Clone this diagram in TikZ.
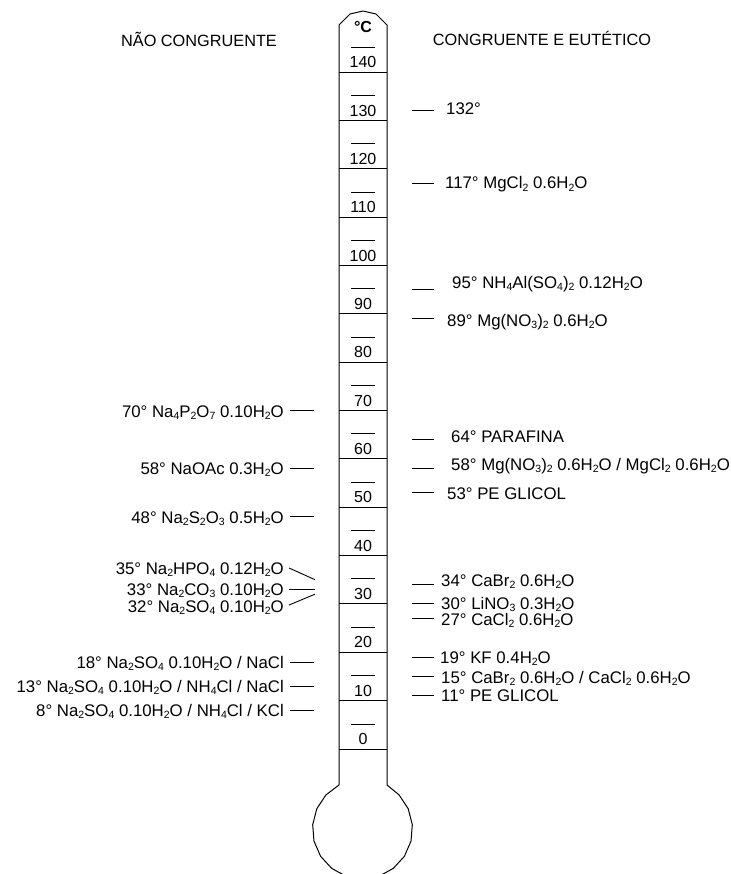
\documentclass[tikz,border=0pt]{standalone}
\usepackage{fontspec}
\setmainfont{Liberation Sans}
\usetikzlibrary{calc}
\newcommand\chsub[1]{\raisebox{-0.17em}{\fontsize{10.5}{10}\selectfont #1}}
\tikzset{
  lab/.style={font=\fontsize{16.8}{18}\selectfont, inner sep=0pt},
  scl/.style={font=\fontsize{16}{18}\selectfont, inner sep=0pt, anchor=base},
  head/.style={font=\fontsize{16.3}{18}\selectfont, inner sep=0pt},
  tick/.style={line width=0.9pt},
  outline/.style={line width=1pt, line join=round},
  leftlab/.style={lab, anchor=base east},
  rightlab/.style={lab, anchor=base west},
}
\begin{document}
\begin{tikzpicture}[x=1pt,y=-1pt]
\useasboundingbox (0,0) rectangle (730,874);
\clip (0,0) rectangle (730,874);
% thermometer outline
\coordinate (tl) at (339,25);
\coordinate (tr) at (387,25);
\coordinate (bl) at (339,785);
\coordinate (br) at (387,785);
\coordinate (bc) at (362.5,829);
\draw[outline] (bl) -- (tl) -- (350,14) -- (363,11) -- (376,14) -- (tr) -- (br)
  \foreach \k in {1,...,15} { -- ($(bc)+({50*cos(-62+19*\k)},{50*sin(-62+19*\k)})$) } -- (bl);
% scale
\foreach \v in {0,10,...,140} {
  \coordinate (sa\v) at (339,{749-4.836*\v});
  \coordinate (sb\v) at (387,{749-4.836*\v});
  \draw[tick] (sa\v) -- (sb\v);
  \node[scl] (n\v) at (363,{749-4.836*\v-4.3}) {\v};
  \coordinate (da\v) at (351,{749-4.836*\v-25});
  \coordinate (db\v) at (375,{749-4.836*\v-25});
  \draw[tick] (da\v) -- (db\v);
}
\node[head, font=\fontsize{16}{18}\selectfont\bfseries] (deg) at (363,27) {°C};
% headers
\node[head] (hl) at (199,39) {NÃO CONGRUENTE};
\node[head] (hr) at (542,39) {CONGRUENTE E EUTÉTICO};
% left labels
\node[leftlab] (L70) at (284,417) {70° Na\chsub4P\chsub2O\chsub7 0.10H\chsub2O};
\node[leftlab] (L58) at (284,474) {58° NaOAc 0.3H\chsub2O};
\node[leftlab] (L48) at (284,523) {48° Na\chsub2S\chsub2O\chsub3 0.5H\chsub2O};
\node[leftlab] (L35) at (284,574) {35° Na\chsub2HPO\chsub4 0.12H\chsub2O};
\node[leftlab] (L33) at (284,595) {33° Na\chsub2CO\chsub3 0.10H\chsub2O};
\node[leftlab] (L32) at (284,612) {32° Na\chsub2SO\chsub4 0.10H\chsub2O};
\node[leftlab] (L18) at (284,668) {18° Na\chsub2SO\chsub4 0.10H\chsub2O / NaCl};
\node[leftlab] (L13) at (284,692) {13° Na\chsub2SO\chsub4 0.10H\chsub2O / NH\chsub4Cl / NaCl};
\node[leftlab] (L8) at (284,716) {8° Na\chsub2SO\chsub4 0.10H\chsub2O / NH\chsub4Cl / KCl};
\coordinate (a70) at (290,410.5); \coordinate (b70) at (314,410.5);
\coordinate (a58) at (290,468.5); \coordinate (b58) at (314,468.5);
\coordinate (a48) at (290,516.9); \coordinate (b48) at (314,516.9);
\coordinate (a35) at (289,568);   \coordinate (b35) at (315,579.7);
\coordinate (a33) at (289,589.4); \coordinate (b33) at (315,589.4);
\coordinate (a32) at (289,605);   \coordinate (b32) at (315,594.2);
\coordinate (a18) at (290,662);   \coordinate (b18) at (314,662);
\coordinate (a13) at (290,686.1); \coordinate (b13) at (314,686.1);
\coordinate (a8) at (290,710.3);  \coordinate (b8) at (314,710.3);
\foreach \t in {70,58,48,35,33,32,18,13,8} { \draw[tick] (a\t) -- (b\t); }
% right labels
\node[rightlab] (R132) at (446,115) {132°};
\node[rightlab] (R117) at (445,189) {117° MgCl\chsub2 0.6H\chsub2O};
\node[rightlab] (R95) at (452,288) {95° NH\chsub4Al(SO\chsub4)\chsub2 0.12H\chsub2O};
\node[rightlab] (R89) at (447,326) {89° Mg(NO\chsub3)\chsub2 0.6H\chsub2O};
\node[rightlab] (R64) at (451,442) {64° PARAFINA};
\node[rightlab] (R58) at (451,470) {58° Mg(NO\chsub3)\chsub2 0.6H\chsub2O / MgCl\chsub2 0.6H\chsub2O};
\node[rightlab] (R53) at (447,499) {53° PE GLICOL};
\node[rightlab] (R34) at (441,586) {34° CaBr\chsub2 0.6H\chsub2O};
\node[rightlab] (R30) at (441,609) {30° LiNO\chsub3 0.3H\chsub2O};
\node[rightlab] (R27) at (441,625) {27° CaCl\chsub2 0.6H\chsub2O};
\node[rightlab] (R19) at (440,663) {19° KF 0.4H\chsub2O};
\node[rightlab] (R15) at (441,683) {15° CaBr\chsub2 0.6H\chsub2O / CaCl\chsub2 0.6H\chsub2O};
\node[rightlab] (R11) at (441,701) {11° PE GLICOL};
\foreach \t/\yy in {132/110.6,117/183.2,95/289.6,89/318.6,64/439.5,58/468.5,53/492.7,34/584.6,30/603.9,27/618.4,19/657.1,15/676.5,11/695.8} {
  \coordinate (c\t) at (412,\yy); \coordinate (d\t) at (434,\yy);
  \draw[tick] (c\t) -- (d\t);
}
\end{tikzpicture}
\end{document}
